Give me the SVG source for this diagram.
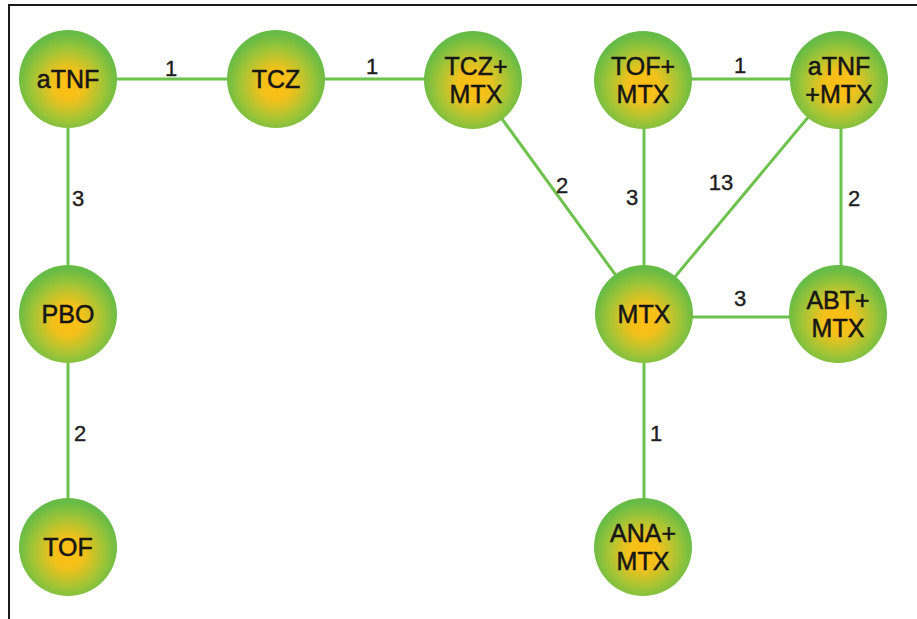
<svg xmlns="http://www.w3.org/2000/svg" width="917" height="619" viewBox="0 0 917 619">
  <defs>
    <radialGradient id="nodeFill" cx="50%" cy="56%" r="52%">
      <stop offset="0%" stop-color="#ffbe12"/>
      <stop offset="30%" stop-color="#f4c11b"/>
      <stop offset="68%" stop-color="#a6c535"/>
      <stop offset="100%" stop-color="#66bc46"/>
    </radialGradient>
    <filter id="soft" x="-10%" y="-10%" width="120%" height="120%">
      <feGaussianBlur stdDeviation="0.6"/>
    </filter>
  </defs>
  <style>
    .frame { stroke: #1a1a1a; stroke-width: 2; fill: none; }
    .edge { stroke: #6cc24c; stroke-width: 3; fill: none; }
    .node circle { fill: url(#nodeFill); filter: url(#soft); }
    .node text { font-family: "Liberation Sans", Arial, sans-serif; font-size: 25px; fill: #161616; stroke: #161616; stroke-width: 0.5; text-anchor: middle; }
    .weight { font-family: "Liberation Sans", Arial, sans-serif; font-size: 22px; fill: #1e1e1e; stroke: #1e1e1e; stroke-width: 0.4; text-anchor: middle; }
  </style>

  <rect x="0" y="0" width="917" height="619" fill="#ffffff"/>
  <!-- frame: top and left rules -->
  <path class="frame" d="M8,5 H917 M9,5 V619"/>

  <g id="connectors">
    <line class="edge" x1="68" y1="79" x2="276" y2="79"/>
    <line class="edge" x1="276" y1="79" x2="473" y2="79"/>
    <line class="edge" x1="644" y1="79" x2="840" y2="79"/>
    <line class="edge" x1="68" y1="79" x2="68" y2="314"/>
    <line class="edge" x1="68" y1="314" x2="68" y2="547"/>
    <line class="edge" x1="473" y1="79" x2="644" y2="314"/>
    <line class="edge" x1="644" y1="79" x2="644" y2="314"/>
    <line class="edge" x1="840" y1="79" x2="644" y2="314"/>
    <line class="edge" x1="841" y1="79" x2="841" y2="314"/>
    <line class="edge" x1="644" y1="317" x2="839" y2="317"/>
    <line class="edge" x1="644" y1="314" x2="644" y2="547"/>
    <!-- edge weights -->
    <text class="weight" x="171" y="76">1</text>
    <text class="weight" x="372" y="74">1</text>
    <text class="weight" x="740" y="73">1</text>
    <text class="weight" x="78" y="206">3</text>
    <text class="weight" x="80" y="441">2</text>
    <text class="weight" x="562" y="193">2</text>
    <text class="weight" x="632" y="205">3</text>
    <text class="weight" x="721" y="190">13</text>
    <text class="weight" x="854" y="206">2</text>
    <text class="weight" x="740" y="306">3</text>
    <text class="weight" x="656" y="441">1</text>
  </g>

  <g id="aTNF" class="node">
    <circle cx="68" cy="79" r="49"/>
    <text x="68" y="88">aTNF</text>
  </g>
  <g id="TCZ" class="node">
    <circle cx="276" cy="79" r="49"/>
    <text x="276" y="88">TCZ</text>
  </g>
  <g id="TCZ_MTX" class="node">
    <circle cx="473" cy="80" r="49"/>
    <text x="476" y="75">TCZ+</text>
    <text x="476" y="103">MTX</text>
  </g>
  <g id="TOF_MTX" class="node">
    <circle cx="643" cy="80" r="49"/>
    <text x="643" y="75">TOF+</text>
    <text x="643" y="103">MTX</text>
  </g>
  <g id="aTNF_MTX" class="node">
    <circle cx="839" cy="80" r="49"/>
    <text x="839" y="75">aTNF</text>
    <text x="839" y="103">+MTX</text>
  </g>
  <g id="PBO" class="node">
    <circle cx="68" cy="314" r="49"/>
    <text x="68" y="323">PBO</text>
  </g>
  <g id="MTX" class="node">
    <circle cx="644" cy="314" r="49"/>
    <text x="644" y="323">MTX</text>
  </g>
  <g id="ABT_MTX" class="node">
    <circle cx="838" cy="314" r="49"/>
    <text x="838" y="309">ABT+</text>
    <text x="838" y="337">MTX</text>
  </g>
  <g id="TOF" class="node">
    <circle cx="68" cy="547" r="49"/>
    <text x="68" y="556">TOF</text>
  </g>
  <g id="ANA_MTX" class="node">
    <circle cx="643" cy="547" r="49"/>
    <text x="643" y="542">ANA+</text>
    <text x="643" y="570">MTX</text>
  </g>
</svg>
